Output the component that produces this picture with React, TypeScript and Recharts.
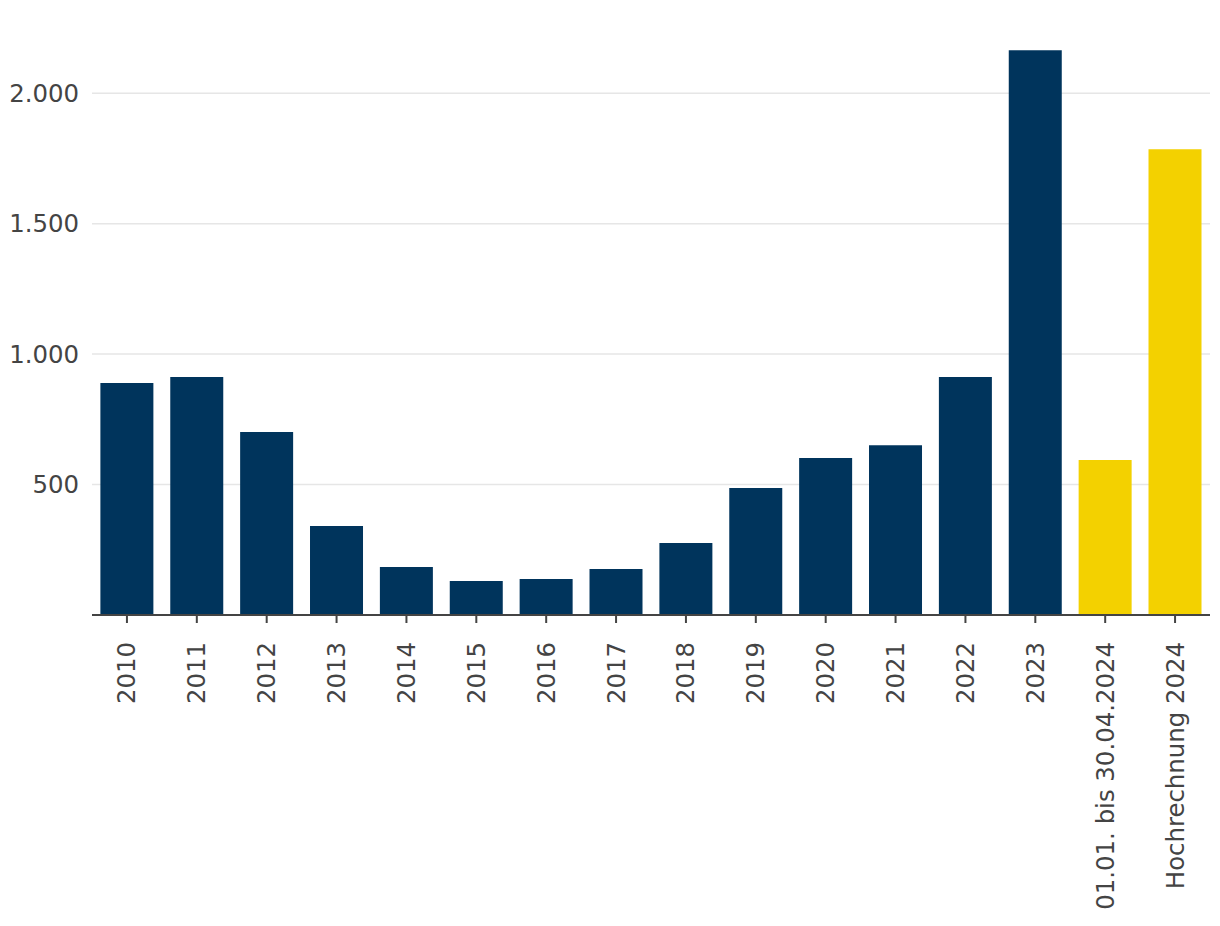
import React from 'react';
import { BarChart, Bar, XAxis, YAxis, CartesianGrid, Cell } from 'recharts';

const categories = [
  '2010', '2011', '2012', '2013', '2014', '2015', '2016', '2017',
  '2018', '2019', '2020', '2021', '2022', '2023',
  '01.01. bis 30.04.2024', 'Hochrechnung 2024'
];
const values = [889, 912, 701, 341, 184, 130, 138, 176, 276, 487, 602, 651, 912, 2165, 594, 1785];
const projected = ['01.01. bis 30.04.2024', 'Hochrechnung 2024'];
const yTicks = [500, 1000, 1500, 2000];

const NAVY = '#00345c';
const YELLOW = '#f3d100';
const TEXT = '#444';
const FONT = '"DejaVu Sans", Verdana, sans-serif';
const FONT_SIZE = 24.4;

const data = categories.map((c, i) => ({ name: c, value: values[i] }));

const formatDe = (v: number) => String(v).replace(/\B(?=(\d{3})+(?!\d))/g, '.');

const XTick = ({ x, y, payload }: any) => (
  <g transform={`translate(${x},${y})`}>
    <text transform="rotate(-90)" textAnchor="end" dy="0.35em" fill={TEXT} fontSize={FONT_SIZE} fontFamily={FONT}>
      {payload.value}
    </text>
  </g>
);

export default function App() {
  return (
    <div style={{ position: 'absolute', left: 0, top: 0, width: 1220, height: 926, background: '#fff' }}>
      <BarChart
        width={1220}
        height={926}
        data={data}
        margin={{ top: 22, right: 10, left: 0, bottom: 0 }}
        barCategoryGap="12%"
      >
        <CartesianGrid vertical={false} stroke="#e6e6e6" strokeWidth={1.5} horizontalValues={yTicks} />
        <XAxis
          dataKey="name"
          interval={0}
          height={311}
          tick={<XTick />}
          tickSize={8}
          tickMargin={19}
          axisLine={{ stroke: '#444', strokeWidth: 2 }}
          tickLine={{ stroke: '#444', strokeWidth: 2 }}
        />
        <YAxis
          width={92}
          domain={[0, 2273]}
          ticks={yTicks}
          axisLine={false}
          tickLine={false}
          tickSize={0}
          tickMargin={13}
          tickFormatter={formatDe}
          tick={{ fill: TEXT, fontSize: FONT_SIZE, fontFamily: FONT }}
        />
        <Bar dataKey="value" isAnimationActive={false}>
          {data.map((d) => (
            <Cell key={d.name} fill={projected.includes(d.name) ? YELLOW : NAVY} />
          ))}
        </Bar>
      </BarChart>
    </div>
  );
}
